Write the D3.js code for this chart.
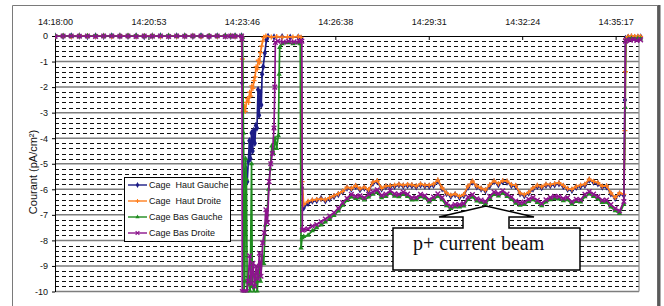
<!DOCTYPE html>
<html lang="fr">
<head>
<meta charset="UTF-8">
<title>Courant des cages</title>
<script src="https://d3js.org/d3.v7.min.js"></script>
<style>
  body { margin: 0; background: #fff; }
  svg { display: block; font-family: "Liberation Sans", Arial, sans-serif; }
  .legend text { white-space: pre; }
</style>
</head>
<body>
<svg id="chart" width="664" height="306"></svg>
<script>
// ---- données (temps en secondes depuis 14:18:00, courant en pA/cm²) ----
const seriesNames = ["Cage  Haut Gauche", "Cage  Haut Droite", "Cage Bas Gauche", "Cage Bas Droite"];
const timeTicks = [0, 172.8, 345.6, 518.4, 691.2, 864, 1036.8];
const yTicks = [0, -1, -2, -3, -4, -5, -6, -7, -8, -9, -10];

// avant le faisceau : tout reste à 0
const flatTimes = [0, 15, 30, 45, 60, 75, 90, 105, 120, 135, 150, 165, 180, 195, 210, 225, 240, 255, 270, 285, 300, 315, 325, 333];
const blueFlat   = [0, -0.01, 0, 0, -0.02, 0, -0.01, 0, 0, -0.01, 0, -0.02, 0, 0, -0.01, 0, 0, -0.01, 0, -0.02, 0, 0, -0.01, 0];
const orangeFlat = [-0.01, 0, -0.02, 0, 0, -0.01, 0, -0.02, 0, 0, -0.01, 0, 0, -0.02, 0, -0.01, 0, 0, -0.02, 0, -0.01, 0, 0, -0.01];
const greenFlat  = [0, 0, -0.01, -0.02, 0, 0, -0.01, 0, -0.02, 0, 0, -0.01, -0.02, 0, 0, -0.01, 0, -0.02, 0, 0, -0.01, 0, -0.02, 0];
const purpleFlat = [-0.02, 0, 0, -0.01, 0, -0.02, 0, 0, -0.01, 0, -0.02, 0, -0.01, 0, -0.02, 0, -0.01, 0, 0, -0.01, 0, -0.02, 0, -0.01];

// transitoire à 14:23:46
const blueJump = [[345, 0], [346.5, -1.85], [348, -4.2], [349.5, -5.4], [351.5, -5.85], [353.5, -5.2], [355.5, -5.7], [357.5, -4.9],
  [359.5, -4.1], [361.5, -4.8], [363.5, -3.8], [365.5, -4.5], [367.5, -3.7], [369.5, -4.2], [371.5, -3.5], [373.5, -3.6],
  [375.5, -2.1], [377.5, -3.1], [379.5, -2.2], [381.5, -2.7], [383, -1.5], [385, -1.2], [388, -0.67], [391, -0.15],
  [394, -0.02], [405, -0.04], [420, -0.03], [435, -0.05], [450, -0.04], [455, -0.1], [457, -5.95]];
const orangeJump = [[345, -0.02], [346.5, -0.9], [348, -2.95], [350, -2.75], [352, -2.95], [354, -2.6], [356, -2.45], [358, -2.6],
  [360, -2.2], [362, -2.35], [364, -1.95], [366, -2.05], [368, -1.75], [370, -1.6], [372, -1.2], [374, -1.3],
  [376, -0.95], [378, -1.05], [380, -0.65], [382, -0.4], [384, -0.2], [386, -0.05], [390, 0], [400, -0.04],
  [410, -0.02], [420, -0.05], [430, -0.03], [440, -0.04], [450, -0.02], [455, -0.05], [457, -5.7]];
const greenJump = [[345, 0], [347, -0.05], [348.5, -3.8], [349.5, -10], [351, -9.6], [352.5, -4.8], [354, -5.6], [355.5, -10],
  [358, -9.4], [361, -10], [363.5, -5.0], [365, -9.8], [368, -10], [371, -9.3], [374, -10], [377, -9.0],
  [380, -9.6], [383, -8.6], [386, -8.9], [389, -7.4], [392, -7.0], [395, -6.0], [398, -5.2], [401, -4.3],
  [404, -4.6], [407, -4.0], [410, -4.4], [413, -3.9], [414.5, -1.5], [415.5, -0.45], [420, -0.3], [430, -0.26],
  [440, -0.3], [450, -0.27], [453.5, -0.3], [455, -8.3], [457, -7.9]];
const purpleJump = [[345, 0], [345.8, -0.1], [346.3, -10], [350, -10], [354, -10], [357, -9.6], [360, -8.6], [363, -9.7],
  [366, -8.9], [369, -9.8], [372, -9.0], [375, -9.5], [378, -8.5], [381, -9.4], [384, -8.1], [387, -7.7],
  [390, -6.8], [393, -7.3], [396, -5.7], [399, -5.0], [402, -4.6], [405, -3.6], [406.5, -2.0], [407.5, -0.25],
  [412, -0.2], [422, -0.24], [432, -0.2], [442, -0.23], [452, -0.21], [456.5, -0.2], [457.5, -7.6]];

// faisceau p+
const beamTimes = [460, 468, 476, 484, 492, 500, 508, 516, 524, 532, 540, 548, 556, 564, 572, 580, 588, 596, 604, 612,
  620, 628, 636, 644, 652, 660, 668, 676, 684, 692, 700, 708, 716, 724, 732, 740, 748, 756, 764, 772,
  780, 788, 796, 804, 812, 820, 828, 836, 844, 852, 860, 868, 876, 884, 892, 900, 908, 916, 924, 932,
  940, 948, 956, 964, 972, 980, 988, 996, 1004, 1012, 1020, 1028, 1036, 1044, 1052];
const blueBeam = [-6.72, -6.55, -6.46, -6.44, -6.36, -6.45, -6.37, -6.28, -6.20, -6.10,
  -5.95, -5.99, -5.88, -6.02, -5.95, -6.05, -5.76, -5.70, -5.99, -5.90,
  -5.89, -5.88, -5.83, -5.87, -5.85, -5.86, -5.90, -5.83, -5.87, -5.88,
  -5.84, -5.68, -5.98, -6.17, -6.27, -6.21, -6.31, -6.24, -5.91, -5.72,
  -5.90, -5.99, -6.06, -5.86, -5.70, -5.82, -5.70, -5.72, -5.85, -5.88,
  -6.18, -6.25, -6.15, -5.99, -5.88, -5.93, -5.84, -5.85, -5.82, -5.78,
  -5.88, -6.00, -6.04, -5.92, -5.88, -5.84, -5.64, -5.72, -5.78, -5.91,
  -5.90, -6.18, -6.35, -6.18, -6.24];
const orangeBeam = [-6.60, -6.47, -6.42, -6.40, -6.38, -6.41, -6.33, -6.25, -6.17, -6.08,
  -5.92, -5.97, -5.85, -5.98, -5.92, -6.02, -5.72, -5.66, -5.96, -5.87,
  -5.86, -5.84, -5.80, -5.84, -5.81, -5.82, -5.87, -5.79, -5.84, -5.84,
  -5.80, -5.63, -5.95, -6.14, -6.23, -6.18, -6.28, -6.20, -5.87, -5.68,
  -5.87, -5.96, -6.03, -5.82, -5.67, -5.78, -5.66, -5.68, -5.82, -5.85,
  -6.15, -6.21, -6.12, -5.95, -5.84, -5.90, -5.80, -5.82, -5.78, -5.74,
  -5.85, -5.97, -6.00, -5.89, -5.84, -5.80, -5.60, -5.69, -5.74, -5.88,
  -5.86, -6.14, -6.32, -6.14, -6.20];
const greenBeam = [-7.85, -7.80, -7.62, -7.50, -7.40, -7.28, -7.15, -7.02, -6.85, -6.62,
  -6.44, -6.30, -6.36, -6.34, -6.42, -6.30, -6.19, -6.12, -6.33, -6.28,
  -6.15, -6.27, -6.29, -6.20, -6.28, -6.42, -6.41, -6.29, -6.34, -6.50,
  -6.39, -6.27, -6.41, -6.64, -6.75, -6.69, -6.69, -6.65, -6.39, -6.30,
  -6.46, -6.51, -6.57, -6.36, -6.20, -6.26, -6.15, -6.28, -6.39, -6.55,
  -6.62, -6.59, -6.48, -6.41, -6.52, -6.64, -6.50, -6.41, -6.36, -6.38,
  -6.45, -6.41, -6.58, -6.48, -6.50, -6.29, -6.18, -6.28, -6.37, -6.52,
  -6.51, -6.69, -6.84, -6.95, -6.58];
const purpleBeam = [-7.58, -7.55, -7.44, -7.38, -7.27, -7.16, -7.05, -6.92, -6.74, -6.52,
  -6.35, -6.20, -6.27, -6.25, -6.33, -6.20, -6.10, -6.02, -6.24, -6.19,
  -6.06, -6.18, -6.20, -6.11, -6.19, -6.33, -6.32, -6.20, -6.25, -6.41,
  -6.30, -6.18, -6.32, -6.55, -6.66, -6.60, -6.60, -6.56, -6.30, -6.21,
  -6.37, -6.42, -6.48, -6.27, -6.11, -6.17, -6.06, -6.19, -6.30, -6.46,
  -6.53, -6.50, -6.39, -6.32, -6.43, -6.55, -6.41, -6.32, -6.27, -6.29,
  -6.36, -6.32, -6.49, -6.39, -6.41, -6.20, -6.09, -6.19, -6.28, -6.43,
  -6.42, -6.60, -6.75, -6.85, -6.48];

// fin du faisceau
const blueTail   = [[1054, -2.5], [1055, -0.1], [1060, -0.05], [1066, -0.04], [1072, -0.06], [1078, -0.05], [1083, -0.04]];
const orangeTail = [[1054, -3.7], [1055, -1.4], [1056, -0.1], [1060, -0.02], [1066, 0], [1072, -0.02], [1078, -0.01], [1083, -0.02]];
const greenTail  = [[1054.5, -2.8], [1055.5, -0.2], [1060, -0.12], [1066, -0.1], [1072, -0.13], [1078, -0.1], [1083, -0.12]];
const purpleTail = [[1055, -0.2], [1058, -0.15], [1064, -0.16], [1070, -0.14], [1076, -0.17], [1083, -0.15]];

// ---- assemblage des séries ----
function build(flatVals, jump, beamVals, tail) {
  return flatTimes.map((t, i) => [t, flatVals[i]])
    .concat(jump, beamTimes.map((t, i) => [t, beamVals[i]]), tail);
}
const series = [
  { name: seriesNames[0], color: "#1c1c86", marker: "diamond", points: build(blueFlat, blueJump, blueBeam, blueTail) },
  { name: seriesNames[1], color: "#ff7f1e", marker: "plus", points: build(orangeFlat, orangeJump, orangeBeam, orangeTail) },
  { name: seriesNames[2], color: "#1e8c1e", marker: "triangle", points: build(greenFlat, greenJump, greenBeam, greenTail) },
  { name: seriesNames[3], color: "#8c148c", marker: "cross", points: build(purpleFlat, purpleJump, purpleBeam, purpleTail) }
];

// ---- dimensions ----
const pLeft = 55, pRight = 639, pTop = 36, pBottom = 291.5;
const x = d3.scaleLinear().domain([0, 1080]).range([pLeft, pRight]);
const y = d3.scaleLinear().domain([-10, 0]).range([pBottom, pTop]);

const svg = d3.select("#chart");

// cadre extérieur
svg.append("path").attr("d", "M12.5,306V5.5H657.5V306")
  .attr("fill", "none").attr("stroke", "#7a7a7a").attr("stroke-width", 1);
svg.append("line").attr("x1", 659).attr("x2", 659).attr("y1", 5).attr("y2", 306)
  .attr("stroke", "#5a5a5a").attr("stroke-width", 3);

// grille secondaire (pointillés tous les 0.2)
const minor = [];
yTicks.slice(0, -1).forEach(v => { [0.2, 0.4, 0.6, 0.8].forEach(f => minor.push(v - f)); });
svg.append("g").selectAll("line").data(minor).join("line")
  .attr("x1", pLeft).attr("x2", pRight)
  .attr("y1", d => Math.round(y(d)) + 0.5).attr("y2", d => Math.round(y(d)) + 0.5)
  .attr("stroke", "#111").attr("stroke-width", 1).attr("stroke-dasharray", "4,3");

// grille principale
svg.append("g").selectAll("line").data(yTicks.slice(1)).join("line")
  .attr("x1", pLeft).attr("x2", pRight)
  .attr("y1", d => y(d)).attr("y2", d => y(d))
  .attr("stroke", "#7d7d7d").attr("stroke-width", 1.5);

// bord droit de la zone de tracé
svg.append("line").attr("x1", pRight).attr("x2", pRight).attr("y1", pTop).attr("y2", pBottom)
  .attr("stroke", "#8a8a8a").attr("stroke-width", 1.2);

// axe des temps (en haut, sur la ligne 0)
function fmtTime(t) {
  const s = 14 * 3600 + 18 * 60 + Math.round(t);
  const p = n => String(n).padStart(2, "0");
  return p(Math.floor(s / 3600)) + ":" + p(Math.floor(s / 60) % 60) + ":" + p(s % 60);
}
const xAxis = svg.append("g").attr("transform", `translate(0,${pTop})`)
  .call(d3.axisTop(x).tickValues(timeTicks).tickFormat(fmtTime).tickSizeInner(-4).tickSizeOuter(0).tickPadding(11));
xAxis.select(".domain").attr("stroke", "#000").attr("stroke-width", 1.2);
xAxis.selectAll("text").attr("font-size", 9).attr("font-family", "Liberation Sans, Arial, sans-serif").attr("fill", "#111");

// axe des courants
const yAxis = svg.append("g").attr("transform", `translate(${pLeft},0)`)
  .call(d3.axisLeft(y).tickValues(yTicks).tickFormat(d => String(d)).tickSizeInner(3).tickSizeOuter(0).tickPadding(4));
yAxis.select(".domain").attr("stroke", "#000");
yAxis.selectAll("text").attr("font-size", 9).attr("font-family", "Liberation Sans, Arial, sans-serif").attr("fill", "#111");

svg.append("text")
  .attr("transform", "translate(37,172) rotate(-90)")
  .attr("text-anchor", "middle").attr("font-size", 11).attr("fill", "#111")
  .text("Courant (pA/cm²)");

// ---- courbes ----
svg.append("clipPath").attr("id", "plot-clip")
  .append("rect").attr("x", pLeft).attr("y", pTop - 5).attr("width", pRight - pLeft + 6).attr("height", pBottom - pTop + 6);

const line = d3.line().x(d => x(d[0])).y(d => y(d[1]));

function drawMarker(sel, type, color) {
  if (type === "diamond") {
    sel.append("path").attr("d", d3.symbol(d3.symbolDiamond, 16)()).attr("fill", color);
  } else if (type === "triangle") {
    sel.append("path").attr("d", d3.symbol(d3.symbolTriangle, 12)()).attr("fill", color);
  } else if (type === "plus") {
    sel.append("path").attr("d", "M-2.5,0H2.5M0,-2.5V2.5").attr("stroke", color).attr("stroke-width", 1.3);
  } else {
    sel.append("path").attr("d", "M-2.3,-2.3L2.3,2.3M-2.3,2.3L2.3,-2.3").attr("stroke", color).attr("stroke-width", 1.4);
  }
}

const plot = svg.append("g").attr("clip-path", "url(#plot-clip)");
series.forEach(s => {
  const g = plot.append("g");
  g.append("path").datum(s.points)
    .attr("d", line).attr("fill", "none")
    .attr("stroke", s.color).attr("stroke-width", 1.7).attr("stroke-linejoin", "round");
  g.selectAll("g.m").data(s.points).join("g").attr("class", "m")
    .attr("transform", d => `translate(${x(d[0])},${y(d[1])})`)
    .each(function () { drawMarker(d3.select(this), s.marker, s.color); });
});

// ---- légende ----
const legend = svg.append("g").attr("class", "legend");
legend.append("rect").attr("x", 124.5).attr("y", 177.5).attr("width", 106).attr("height", 64)
  .attr("fill", "#fff").attr("stroke", "#000").attr("stroke-width", 1);
series.forEach((s, i) => {
  const yy = 185 + i * 16;
  const row = legend.append("g");
  row.append("line").attr("x1", 128).attr("x2", 147).attr("y1", yy).attr("y2", yy)
    .attr("stroke", s.color).attr("stroke-width", 1.4);
  drawMarker(row.append("g").attr("transform", `translate(137.5,${yy}) scale(0.8)`), s.marker, s.color);
  row.append("text").attr("x", 149).attr("y", yy + 3.2)
    .attr("font-size", 9).attr("fill", "#111").text(s.name);
});

// ---- bulle "p+ current beam" ----
svg.append("path")
  .attr("d", "M393,228H463V217H439L486,206L534,217H509V228H580V270H393Z")
  .attr("fill", "#fff").attr("stroke", "#000").attr("stroke-width", 1.5).attr("stroke-linejoin", "miter");
svg.append("text")
  .attr("x", 413).attr("y", 250)
  .attr("font-family", "Liberation Serif, Times New Roman, serif")
  .attr("font-size", 20).attr("fill", "#111")
  .text("p+ current beam");
</script>
</body>
</html>
